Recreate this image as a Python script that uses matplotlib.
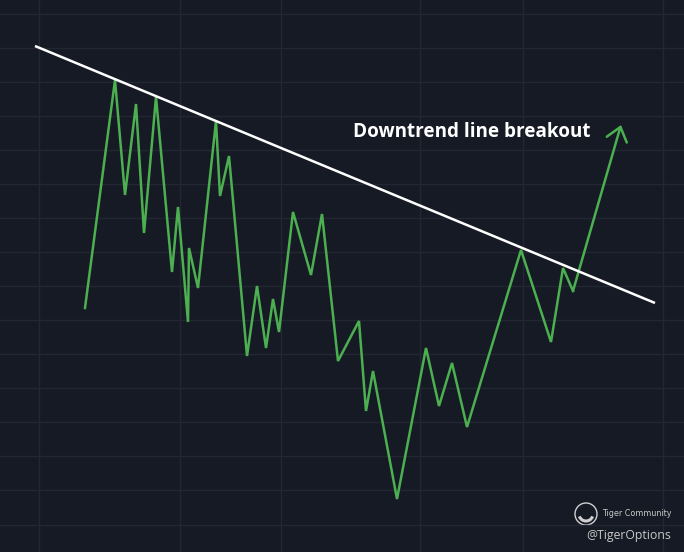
import matplotlib
matplotlib.use("Agg")
import matplotlib.pyplot as plt
from matplotlib.patches import Circle, Arc

# Price path (x = time position, y = price level)
price_x = [85, 115, 125, 136, 144, 156, 172, 178, 188, 189, 198, 216, 220, 229,
           247, 257, 266, 273, 279, 293, 311, 322, 338, 359, 366, 373, 397, 426,
           439, 452, 467, 521, 551, 563, 573, 621]
price_y = [244, 472, 357, 448, 319, 455, 280, 345, 230, 304, 264, 431, 356, 396,
           196, 266, 204, 253, 220, 340, 277, 338, 191, 231, 141, 181, 53, 204,
           146, 189, 125, 302, 210, 284, 261, 427]

# Downtrend line endpoints
trend_x = [35, 655]
trend_y = [506, 249]

# Grid positions
grid_x = [39, 180, 281, 420, 523, 663]
grid_y = [538.5 - 34.07 * k for k in range(16)]

annotation_text = "Downtrend line breakout"
brand_small = "Tiger Community"
brand_handle = "@TigerOptions"

BG = "#161a25"
GRID = "#232733"
GREEN = "#4caf50"

fig = plt.figure(figsize=(6.84, 5.52), dpi=100, facecolor=BG)
ax = fig.add_axes([0, 0, 1, 1])
ax.set_facecolor(BG)
ax.set_xlim(0, 684)
ax.set_ylim(0, 552)

ax.set_xticks(grid_x)
ax.set_yticks(grid_y)
ax.grid(True, color=GRID, lw=1.0)
ax.tick_params(length=0, labelbottom=False, labelleft=False)
for s in ax.spines.values():
    s.set_visible(False)

# Price line (last segment drawn as arrow)
ax.plot(price_x[:-1], price_y[:-1], color=GREEN, lw=1.8, solid_joinstyle="miter",
        zorder=3)
ax.annotate("", xy=(price_x[-1], price_y[-1]), xytext=(price_x[-2], price_y[-2]),
            arrowprops=dict(arrowstyle="->,head_length=0.95,head_width=0.75",
                            color=GREEN, lw=1.8, shrinkA=0, shrinkB=0,
                            mutation_scale=10), zorder=3)

# Trend line
ax.plot(trend_x, trend_y, color="white", lw=1.8, solid_capstyle="butt", zorder=4)

ax.text(353, 420, annotation_text, color="white", fontsize=13.6,
        fontweight="bold", family="Open Sans", ha="left", va="center")

# Watermark
ax.add_patch(Circle((586, 38), 11, fill=False, ec="#d0d0d0", lw=1.0))
ax.add_patch(Arc((586, 38), 14, 14, theta1=200, theta2=340, ec="#d0d0d0", lw=2.2))
ax.text(602, 38, brand_small, color="#c8c8c8", fontsize=5.8, ha="left",
        va="center", family="DejaVu Sans")
ax.text(671, 16, brand_handle, color="#c8c8c8", fontsize=8.8, ha="right",
        va="center", family="Open Sans")

fig.savefig("out.png", dpi=100, facecolor=BG)
